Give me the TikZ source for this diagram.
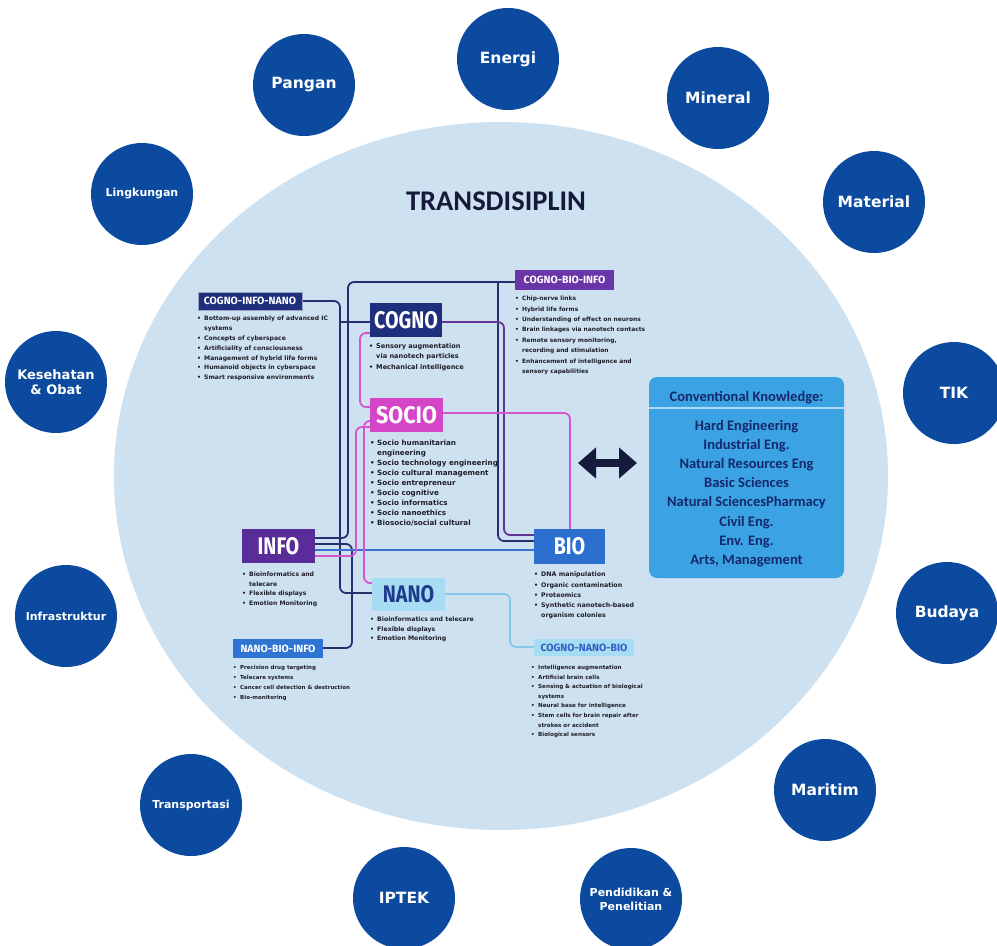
\documentclass[tikz,border=0pt]{standalone}
\usepackage{fontspec}
\setmainfont{Carlito}
\newfontfamily\circfont{DejaVu Sans}
\newfontfamily\listfont{DejaVu Sans}
\newfontfamily\labfont{Fira Sans}
\usetikzlibrary{arrows.meta}
\pgfdeclarelayer{back}
\pgfdeclarelayer{mid}
\pgfsetlayers{back,mid,main}
\definecolor{ellfill}{RGB}{206,225,240}
\definecolor{circblue}{RGB}{12,74,160}
\definecolor{titlecol}{RGB}{22,26,58}
\definecolor{navybox}{RGB}{30,47,125}
\definecolor{sociobox}{RGB}{212,69,200}
\definecolor{infobox}{RGB}{90,44,154}
\definecolor{nanobox}{RGB}{168,220,244}
\definecolor{nanotext}{RGB}{31,60,140}
\definecolor{biobox}{RGB}{44,111,207}
\definecolor{cbibox}{RGB}{106,53,168}
\definecolor{nbibox}{RGB}{47,115,211}
\definecolor{cnbtext}{RGB}{47,95,192}
\definecolor{convbox}{RGB}{59,163,227}
\definecolor{convtext}{RGB}{20,40,107}
\definecolor{convline}{RGB}{170,216,245}
\definecolor{arrowcol}{RGB}{20,27,60}
\definecolor{navyline}{RGB}{39,48,111}
\definecolor{pinkline}{RGB}{214,84,206}
\definecolor{blueline}{RGB}{60,111,208}
\definecolor{purpline}{RGB}{100,52,150}
\definecolor{lbline}{RGB}{134,200,236}
\definecolor{listtext}{RGB}{30,30,40}
\newcommand{\lf}[2]{\listfont\bfseries\fontsize{#1}{#2}\selectfont}
\newcommand{\bl}{\makebox[7pt][l]{\textbullet}}
\newcommand{\cl}{\hspace*{7pt}}
\newcommand{\cond}[2]{\scalebox{#1}[1]{#2}}
\begin{document}
\begin{tikzpicture}[x=1pt,y=-1pt,
  topic/.style={circle, fill=circblue, minimum size=102pt, inner sep=0pt, text=white, align=center,
    font=\circfont\bfseries\fontsize{15.5}{18}\selectfont},
  smalltopic/.style={topic, font=\circfont\bfseries\fontsize{11}{14}\selectfont},
  bigbox/.style={rectangle, minimum width=72pt, minimum height=34pt, inner sep=0pt,
    font=\labfont\bfseries\fontsize{24}{24}\selectfont},
  tagbox/.style={rectangle, minimum height=18pt, inner sep=0pt,
    font=\labfont\bfseries\fontsize{10.5}{10.5}\selectfont},
  itemlist/.style={anchor=north west, inner sep=0pt, align=left, text=listtext},
  conn/.style={line width=1.8pt, rounded corners=6pt},
  convitem/.style={anchor=base, inner sep=0pt, text=convtext, font=\bfseries\fontsize{14.5}{16}\selectfont},
]
\useasboundingbox (0,0) rectangle (997,946);
\begin{pgfonlayer}{back}
\fill[white] (0,0) rectangle (997,946);
\fill[ellfill] (501,476) ellipse [x radius=387pt, y radius=354pt];
\end{pgfonlayer}

% outer topics
\node[topic] (energi) at (508,59) {Energi};
\node[topic] (mineral) at (718,98) {Mineral};
\node[topic] (material) at (874,202) {Material};
\node[topic] (tik) at (954,393) {TIK};
\node[topic] (budaya) at (947,613) {Budaya};
\node[topic] (maritim) at (825,790) {Maritim};
\node[smalltopic] (pendidikan) at (631,899) {Pendidikan \&\\Penelitian};
\node[topic] (iptek) at (404,898) {IPTEK};
\node[smalltopic] (transportasi) at (191,805) {Transportasi};
\node[smalltopic] (infra) at (66,616) {Infrastruktur};
\node[topic, font=\circfont\bfseries\fontsize{13}{15.5}\selectfont] (kesehatan) at (56,382) {Kesehatan\\\& Obat};
\node[smalltopic] (lingkungan) at (142,194) {Lingkungan};
\node[topic] (pangan) at (304,85) {Pangan};

% title
\node[font=\bfseries\fontsize{28.5}{30}\selectfont, text=titlecol, inner sep=0pt] (title) at (496,201) {TRANSDISIPLIN};

% main boxes
\node[bigbox, fill=navybox, text=white] (cogno) at (406,320) {\cond{0.82}{COGNO}};
\node[bigbox, fill=sociobox, text=white, minimum width=73pt] (socio) at (406.5,415) {\cond{0.9}{SOCIO}};
\node[bigbox, fill=infobox, text=white, minimum width=73pt] (info) at (278.5,546) {\cond{0.82}{INFO}};
\node[bigbox, fill=nanobox, text=nanotext, minimum width=73pt, minimum height=33pt] (nano) at (408.5,594.5) {\cond{0.82}{NANO}};
\node[bigbox, fill=biobox, text=white, minimum width=71pt, minimum height=35pt] (bio) at (569.5,546.5) {\cond{0.82}{BIO}};

% tag boxes
\node[tagbox, fill=navybox, text=white, minimum width=104pt, draw=white!55!navybox, line width=0.8pt] (cin) at (250,301) {COGNO-INFO-NANO};
\node[tagbox, fill=cbibox, text=white, minimum width=99pt, minimum height=20pt] (cbi) at (564.5,280) {COGNO-BIO-INFO};
\node[tagbox, fill=nbibox, text=white, minimum width=90pt, minimum height=19pt] (nbi) at (278,648.5) {NANO-BIO-INFO};
\node[tagbox, fill=nanobox, text=cnbtext, minimum width=100pt, minimum height=17pt] (cnb) at (584,647.5) {COGNO-NANO-BIO};

% lists
\node[itemlist, font={\lf{6.1}{9.8}}] (cinlist) at (197,316) {\bl Bottom-up assembly of advanced IC\\\cl systems\\\bl Concepts of cyberspace\\\bl Artificiality of consciousness\\\bl Management of hybrid life forms\\\bl Humanoid objects in cyberspace\\\bl Smart responsive environments};
\node[itemlist, font={\lf{6.6}{10.4}}] (cognolist) at (369,343) {\bl Sensory augmentation\\\cl via nanotech particles\\\bl Mechanical intelligence};
\node[itemlist, font={\lf{5.9}{10.4}}] (cbilist) at (515,296) {\bl Chip-nerve links\\\bl Hybrid life forms\\\bl Understanding of effect on neurons\\\bl Brain linkages via nanotech contacts\\\bl Remote sensory monitoring,\\\cl recording and stimulation\\\bl Enhancement of intelligence and\\\cl sensory capabilities};
\node[itemlist, font={\lf{7.2}{10}}] (sociolist) at (370,440) {\bl Socio humanitarian\\\cl engineering\\\bl Socio technology engineering\\\bl Socio cultural management\\\bl Socio entrepreneur\\\bl Socio cognitive\\\bl Socio informatics\\\bl Socio nanoethics\\\bl Biosocio/social cultural};
\node[itemlist, font={\lf{6.1}{9.4}}] (infolist) at (242,572) {\bl Bioinformatics and\\\cl telecare\\\bl Flexible displays\\\bl Emotion Monitoring};
\node[itemlist, font={\lf{6.2}{9.2}}] (nanolist) at (370,617) {\bl Bioinformatics and telecare\\\bl Flexible displays\\\bl Emotion Monitoring};
\node[itemlist, font={\lf{5.5}{10}}] (nbilist) at (233,665) {\bl Precision drug targeting\\\bl Telecare systems\\\bl Cancer cell detection \& destruction\\\bl Bio-monitoring};
\node[itemlist, font={\lf{6.3}{10.2}}] (biolist) at (534,572) {\bl DNA manipulation\\\bl Organic contamination\\\bl Proteomics\\\bl Synthetic nanotech-based\\\cl organism colonies};
\node[itemlist, font={\lf{5.6}{9.6}}] (cnblist) at (531,665) {\bl Intelligence augmentation\\\bl Artificial brain cells\\\bl Sensing \& actuation of biological\\\cl systems\\\bl Neural base for intelligence\\\bl Stem cells for brain repair after\\\cl strokes or accident\\\bl Biological sensors};

% conventional knowledge
\node[fill=convbox, rounded corners=8pt, minimum width=195pt, minimum height=201pt, inner sep=0pt] (conv) at (746.5,477.5) {};
\draw[convline, line width=1.2pt] (conv.west |- 0,408) -- (conv.east |- 0,408);
\node[convitem] (convhead) at (746.5,401) {Conventional Knowledge:};
\node[convitem] (ck1) at (746.5,430) {Hard Engineering};
\node[convitem] (ck2) at (746.5,449.2) {Industrial Eng.};
\node[convitem] (ck3) at (746.5,468.4) {Natural Resources Eng};
\node[convitem] (ck4) at (746.5,487.6) {Basic Sciences};
\node[convitem] (ck5) at (746.5,506.8) {Natural SciencesPharmacy};
\node[convitem] (ck6) at (746.5,526) {Civil Eng.};
\node[convitem] (ck7) at (746.5,545.2) {Env. Eng.};
\node[convitem] (ck8) at (746.5,564.4) {Arts, Management};

% double arrow
\coordinate (arL) at (578,463);
\coordinate (arR) at (637,463);
\draw[arrowcol, line width=8pt, {Triangle[length=18pt,width=30pt]}-{Triangle[length=18pt,width=30pt]}] (arL) -- (arR);

% connectors
\begin{pgfonlayer}{mid}
\coordinate (j1) at (340,322);
\coordinate (j2) at (498,282);
\draw[conn, navyline] (cin.east) -- (340,301) -- (340,593) -- (nano.west |- 0,593);
\draw[conn, navyline] (j1) -- (cogno.west |- 0,322);
\draw[conn, navyline] (info.east |- 0,538) -- (348,538) -- (348,282) -- (cbi.west |- 0,282);
\draw[conn, navyline] (j2) -- (498,541) -- (bio.west |- 0,541);
\draw[conn, navyline] (info.east |- 0,544) -- (352,544) -- (352,648) -- (nbi.east |- 0,648);
\draw[conn, purpline] (cogno.east |- 0,322) -- (504,322) -- (504,535) -- (bio.west |- 0,535);
\draw[conn, blueline] (info.east |- 0,550) -- (bio.west |- 0,550);
\draw[conn, pinkline] (cogno.west |- 0,333) -- (360,333) -- (360,407) -- (socio.west |- 0,407);
\draw[conn, pinkline] (socio.west |- 0,421) -- (364,421) -- (364,583) -- (nano.west |- 0,583);
\draw[conn, pinkline] (info.east |- 0,556) -- (356,556) -- (356,427) -- (socio.west |- 0,427);
\draw[conn, pinkline] (socio.east |- 0,413) -- (570,413) -- (bio.north -| 570,0);
\draw[conn, lbline] (nano.east |- 0,594) -- (510,594) -- (510,647) -- (cnb.west |- 0,647);
\end{pgfonlayer}
\end{tikzpicture}
\end{document}
